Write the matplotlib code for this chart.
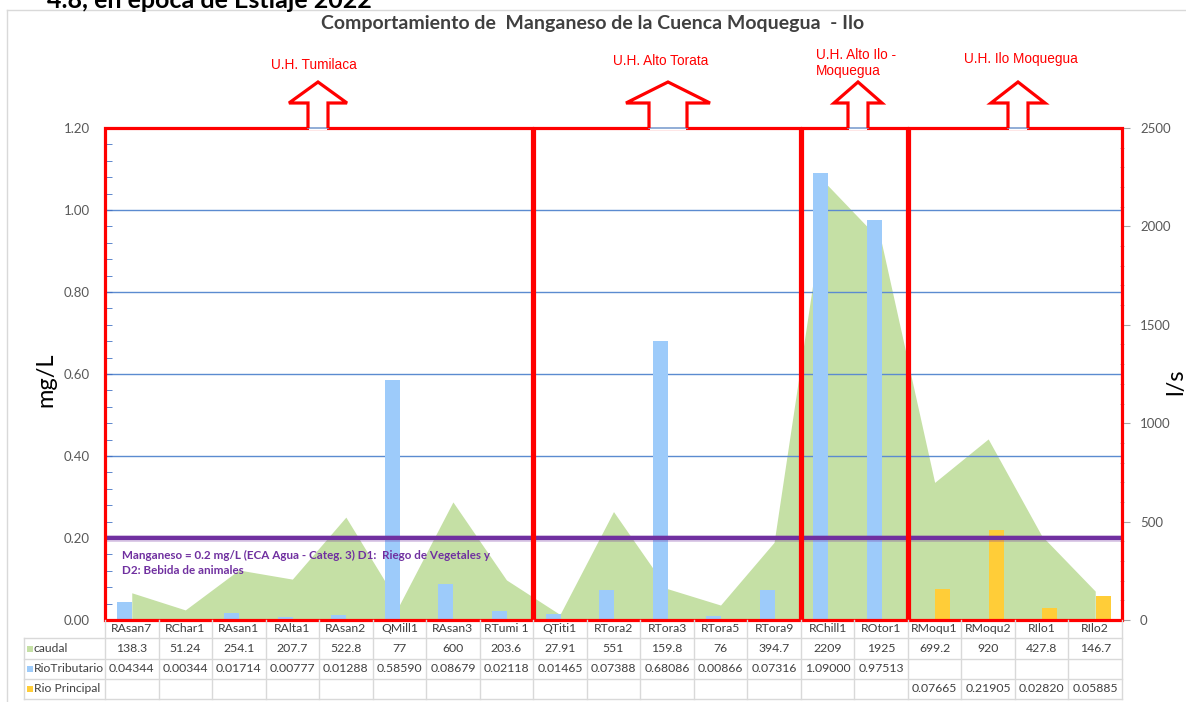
#!/usr/bin/env python3
"""Comportamiento de Manganeso de la Cuenca Moquegua - Ilo (estiaje 2022)."""

import matplotlib
matplotlib.use("Agg")
import matplotlib.pyplot as plt
from matplotlib.lines import Line2D
from matplotlib.patches import Polygon, Rectangle
from matplotlib.transforms import blended_transform_factory
import numpy as np

W, H = 1186, 702

categorias = ["RAsan7", "RChar1", "RAsan1", "RAlta1", "RAsan2", "QMill1", "RAsan3",
              "RTumi 1", "QTiti1", "RTora2", "RTora3", "RTora5", "RTora9", "RChill1",
              "ROtor1", "RMoqu1", "RMoqu2", "RIlo1", "RIlo2"]
caudal = [138.3, 51.24, 254.1, 207.7, 522.8, 77, 600, 203.6, 27.91, 551, 159.8, 76,
          394.7, 2209, 1925, 699.2, 920, 427.8, 146.7]
rio_tributario = [0.04344, 0.00344, 0.01714, 0.00777, 0.01288, 0.58590, 0.08679,
                  0.02118, 0.01465, 0.07388, 0.68086, 0.00866, 0.07316, 1.09000,
                  0.97513, None, None, None, None]
rio_principal = [None] * 15 + [0.07665, 0.21905, 0.02820, 0.05885]
eca_manganeso = 0.2

zonas = ["U.H. Tumilaca", "U.H. Alto Torata", "U.H. Alto Ilo -\nMoquegua", "U.H. Ilo Moquegua"]
zonas_inicio = [0, 8, 13, 15]
zonas_fin = [7, 12, 14, 18]

VERDE = "#C5E0A5"
AZUL = "#9DCBFA"
AMARILLO = "#FFCD38"
MORADO = "#7030A0"
ROJO = "#FF0000"
GRIS_TXT = "#595959"
GRIS_TABLA = "#D9D9D9"
FUENTE = ["Lato", "DejaVu Sans"]
ARIAL = ["Liberation Sans", "DejaVu Sans"]


def px(x, y):
    return x / W, 1 - y / H


def main():
    plt.rcParams["font.family"] = FUENTE
    fig = plt.figure(figsize=(W / 100, H / 100), dpi=100)

    left, right, top, bottom = 105, 1122, 128, 620
    ax2 = fig.add_axes([left / W, 1 - bottom / H, (right - left) / W, (bottom - top) / H])
    ax = ax2.twinx()
    ax.yaxis.tick_left()
    ax2.yaxis.tick_right()
    ax.set_zorder(ax2.get_zorder() + 1)
    ax.patch.set_visible(False)

    x = np.arange(len(categorias))

    # caudal (l/s) en area, eje derecho
    ax2.fill_between(x, caudal, color=VERDE, lw=0, zorder=1)
    ax2.set_ylim(0, 2500)
    ax2.set_xlim(-0.5, len(categorias) - 0.5)
    ax2.set_yticks(np.arange(0, 2501, 500))
    ax2.set_yticks(np.arange(0, 2501, 100), minor=True)
    ax2.tick_params(axis="y", which="major", direction="out", length=6, color="#A6A6A6",
                    labelsize=9.5, labelcolor=GRIS_TXT, pad=7)
    ax2.tick_params(axis="y", which="minor", direction="inout", length=3, color="#A6A6A6")
    ax2.set_xticks([])

    # concentraciones (mg/L), eje izquierdo
    trib = np.array([np.nan if v is None else v for v in rio_tributario])
    princ = np.array([np.nan if v is None else v for v in rio_principal])
    ax.bar(x - 0.13, trib, width=0.28, color=AZUL, zorder=3)
    ax.bar(x + 0.15, princ, width=0.28, color=AMARILLO, zorder=3)
    ax.set_ylim(0, 1.2)
    ax.set_xlim(-0.5, len(categorias) - 0.5)
    ax.set_yticks(np.arange(0, 1.21, 0.2))
    ax.set_yticks(np.arange(0, 1.2001, 0.04), minor=True)
    ax.set_yticklabels([f"{v:.2f}" for v in np.arange(0, 1.21, 0.2)])
    ax.tick_params(axis="y", which="both", direction="in", length=5, color="#4472C4",
                   labelsize=9.5, labelcolor=GRIS_TXT, pad=11)
    ax.set_xticks([])
    ax.grid(True, axis="y", color="#5B8BD0", lw=1, zorder=0.5)
    ax.set_axisbelow(True)
    for a in (ax, ax2):
        for s in a.spines.values():
            s.set_visible(False)

    # limite ECA
    ax.axhline(eca_manganeso, color=MORADO, lw=3, zorder=4)
    ax.axhline(eca_manganeso, color=MORADO, lw=5, alpha=0.25, zorder=4)
    fig.text(*px(122, 563), "Manganeso = 0.2 mg/L (ECA Agua - Categ. 3) D1:  Riego de Vegetales y\n"
             "D2: Bebida de animales", color=MORADO, fontsize=8.4, fontweight="bold",
             va="center", ha="left", linespacing=1.5)

    # recuadros de las unidades hidrograficas
    for ini, fin in zip(zonas_inicio, zonas_fin):
        x0 = ini - 0.5 + (0.02 if ini > 0 else 0)
        x1 = fin + 0.5 - (0.02 if fin < len(categorias) - 1 else 0)
        ax.add_patch(Rectangle((x0, 0), x1 - x0, 1.2, fill=False, ec=ROJO, lw=2.3,
                               zorder=5, clip_on=False))

    # flechas y etiquetas
    flechas = [(318, 29, 10), (668, 42, 19), (858, 24, 10), (1018, 27, 10)]
    for cx, hh, sh in flechas:
        pts = [(cx - sh, top), (cx - sh, 103), (cx - hh, 103), (cx, 82),
               (cx + hh, 103), (cx + sh, 103), (cx + sh, top)]
        fig.add_artist(Rectangle(px(cx - sh + 1.2, top + 2), (2 * sh - 2.4) / W, 4 / H,
                                 transform=fig.transFigure, fc="white", ec="none", zorder=6))
        fig.add_artist(Line2D([px(cx - sh, 0)[0], px(cx + sh, 0)[0]], [px(0, top)[1]] * 2,
                              transform=fig.transFigure, color="#7F9FCF", lw=1.2, zorder=7))
        fig.add_artist(Polygon([px(*p) for p in pts], closed=False, fill=False, ec=ROJO,
                               lw=2.3, joinstyle="miter", transform=fig.transFigure, zorder=7))

    fig.text(*px(314, 65), zonas[0], color=ROJO, fontsize=9.8, ha="center", va="center", family=ARIAL)
    fig.text(*px(661, 61), zonas[1], color=ROJO, fontsize=9.8, ha="center", va="center", family=ARIAL)
    fig.text(*px(816, 63), zonas[2], color=ROJO, fontsize=9.8, ha="left", va="center",
             family=ARIAL, linespacing=1.25)
    fig.text(*px(1021, 59), zonas[3], color=ROJO, fontsize=9.8, ha="center", va="center", family=ARIAL)

    # titulos y ejes
    fig.text(*px(47, 8), "4.8, en época de Estiaje 2022", fontsize=18, fontweight="bold",
             ha="left", va="baseline", color="black")
    fig.text(*px(593, 24), "Comportamiento de  Manganeso de la Cuenca Moquegua  - Ilo",
             fontsize=14, fontweight="bold", color="#404040", ha="center", va="center")
    fig.text(*px(46, 380), "mg/L", fontsize=17, rotation=90, ha="center", va="center", color="black")
    fig.text(*px(1176, 382), "l/s", fontsize=17, rotation=90, ha="center", va="center", color="black")

    # marco del grafico
    fig.add_artist(Line2D([7 / W, 1], [1 - 10 / H] * 2, transform=fig.transFigure,
                          color=GRIS_TABLA, lw=1))
    fig.add_artist(Line2D([7 / W] * 2, [1 - 10 / H, 0], transform=fig.transFigure,
                          color=GRIS_TABLA, lw=1))

    # tabla de datos
    tr = blended_transform_factory(ax.transData, fig.transFigure)
    fy = lambda y: 1 - y / H
    filas_y = [638, 658.5, 679, 699]
    bordes = np.arange(len(categorias) + 1) - 0.5
    for b in bordes:
        fig.add_artist(Line2D([b, b], [fy(bottom), fy(699)], transform=tr, color=GRIS_TABLA, lw=1))
    for y in filas_y:
        fig.add_artist(Line2D([24 / W, right / W], [fy(y)] * 2, transform=fig.transFigure,
                              color=GRIS_TABLA, lw=1))
    fig.add_artist(Line2D([24 / W] * 2, [fy(638), fy(699)], transform=fig.transFigure,
                          color=GRIS_TABLA, lw=1))

    txt = dict(fontsize=8.8, color="#404040", ha="center", va="center", transform=tr)
    for i, cat in enumerate(categorias):
        fig.text(i, fy(629), cat, **txt)
        fig.text(i, fy(648.5), f"{caudal[i]:g}", **txt)
        if rio_tributario[i] is not None:
            fig.text(i, fy(669), f"{rio_tributario[i]:.5f}", **txt)
        if rio_principal[i] is not None:
            fig.text(i, fy(689), f"{rio_principal[i]:.5f}", **txt)

    for nombre, color, y in [("caudal", VERDE, 648.5), ("RioTributario", AZUL, 669),
                             ("Rio Principal", AMARILLO, 689)]:
        fig.add_artist(Rectangle(px(27, y + 3), 6 / W, 6 / H, transform=fig.transFigure,
                                 fc=color, ec="none"))
        fig.text(*px(34, y), nombre, fontsize=8.7, color="#404040", ha="left", va="center")

    fig.savefig("out.png", dpi=100)
    plt.close(fig)


if __name__ == "__main__":
    main()
